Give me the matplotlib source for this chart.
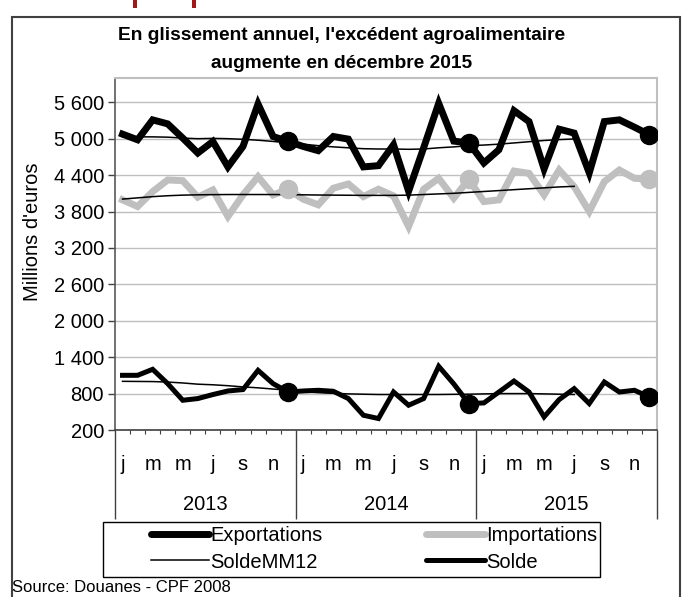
import matplotlib
matplotlib.use("Agg")
import matplotlib.pyplot as plt
from matplotlib.lines import Line2D
from matplotlib.patches import Rectangle
from matplotlib.transforms import blended_transform_factory

# monthly values, Jan 2013 .. Dec 2015 (millions of euros)
exports = [5075, 4982, 5310, 5244, 5010, 4764, 4954, 4535, 4872, 5572, 5036, 4954,
           4872, 4802, 5036, 4993, 4535, 4556, 4900, 4135, 4850, 5583, 4960, 4930,
           4600, 4818, 5462, 5282, 4502, 5157, 5092, 4437, 5282, 5310, 5190, 5064]
imports = [3992, 3882, 4128, 4320, 4308, 4036, 4156, 3718, 4074, 4374, 4074, 4167,
           4003, 3910, 4184, 4254, 4046, 4167, 4057, 3554, 4167, 4347, 4020, 4331,
           3964, 3992, 4467, 4429, 4074, 4484, 4210, 3800, 4292, 4484, 4347, 4331]
solde = [1101, 1101, 1200, 964, 690, 718, 784, 843, 866, 1183, 964, 826,
         843, 854, 838, 718, 443, 389, 826, 608, 718, 1249, 960, 636,
         646, 826, 1007, 826, 416, 701, 882, 636, 991, 826, 854, 744]
# 12-month moving averages (available through June 2015)
exports_mm12 = [5030, 5030, 5030, 5025, 5010, 5000, 5005, 5000, 4990, 4975, 4955, 4930,
                4910, 4885, 4865, 4850, 4835, 4830, 4830, 4825, 4830, 4850, 4865, 4885,
                4895, 4910, 4930, 4950, 4970, 4985, 4995]
imports_mm12 = [4005, 4025, 4045, 4060, 4070, 4075, 4078, 4080, 4080, 4080, 4080, 4078,
                4075, 4072, 4070, 4068, 4066, 4066, 4066, 4070, 4080, 4090, 4100, 4115,
                4130, 4145, 4160, 4175, 4190, 4205, 4215]
solde_mm12 = [1002, 1000, 998, 990, 975, 955, 945, 930, 910, 895, 875, 855,
              830, 815, 805, 795, 790, 785, 785, 785, 785, 785, 788, 790,
              795, 800, 800, 800, 795, 790, 785]
month_labels = ["j", "", "m", "", "m", "", "j", "", "s", "", "n", ""]
years = ["2013", "2014", "2015"]
yticks = [200, 800, 1400, 2000, 2600, 3200, 3800, 4400, 5000, 5600]

GRAY = "#BFBFBF"
W, H = 690, 597
plt.rcParams["font.family"] = ["Liberation Sans", "DejaVu Sans"]

fig = plt.figure(figsize=(W / 100, H / 100), dpi=100, facecolor="white")
ax = fig.add_axes([115 / W, 1 - 430 / H, 542 / W, 352 / H])

n = len(exports)
xs = [i + 0.5 for i in range(n)]
xm = xs[:len(solde_mm12)]
dec = [11, 23, 35]

ax.plot(xs, exports, color="black", lw=5, solid_joinstyle="miter", zorder=3)
ax.plot(xs, imports, color=GRAY, lw=5, solid_joinstyle="miter", zorder=3)
ax.plot(xs, solde, color="black", lw=3.6, solid_joinstyle="miter", zorder=3)
ax.plot(xm, exports_mm12, color="black", lw=1.1, zorder=4)
ax.plot(xm, imports_mm12, color="black", lw=1.1, zorder=4)
ax.plot(xm, solde_mm12, color="black", lw=1.1, zorder=4)
for series, col in [(exports, "black"), (imports, GRAY), (solde, "black")]:
    ax.plot([xs[i] for i in dec], [series[i] for i in dec], "o", color=col,
            ms=13, zorder=5)

ax.set_xlim(0, n)
ax.set_ylim(200, 6000)
ax.set_yticks(yticks)
ax.set_yticklabels([f"{v:,}".replace(",", " ") for v in yticks], fontsize=14.5)
ax.yaxis.grid(True, color=GRAY, lw=1)
ax.set_axisbelow(True)
ax.tick_params(axis="y", direction="out", length=5, width=1, color="#404040", pad=3)

ax.set_xticks([0, 12, 24, 36])
ax.set_xticks(range(n + 1), minor=True)
ax.set_xticklabels([])
ax.tick_params(axis="x", which="major", direction="out", length=64, width=1, color="#404040")
ax.tick_params(axis="x", which="minor", direction="out", length=3, width=0.8, color="#404040")

for s in ["top", "right"]:
    ax.spines[s].set_color(GRAY)
    ax.spines[s].set_linewidth(1.5)
ax.spines["left"].set_color("#595959")
ax.spines["left"].set_linewidth(1.2)
ax.spines["bottom"].set_color("#404040")
ax.spines["bottom"].set_linewidth(1.2)

tr = blended_transform_factory(ax.transData, fig.transFigure)
for y in range(len(years)):
    for m, lab in enumerate(month_labels):
        if lab:
            ax.text(12 * y + m + 0.5, 1 - 464 / H, lab, transform=tr, ha="center",
                    va="center", fontsize=14.5)
    ax.text(12 * y + 6, 1 - 505 / H, years[y], transform=tr, ha="center",
            va="center", fontsize=14.5)

fig.text(33 / W, 1 - 232 / H, "Millions d'euros", rotation=90, ha="center",
         va="center", fontsize=14.5)

fig.text(342 / W, 1 - 36 / H, "En glissement annuel, l'excédent agroalimentaire",
         ha="center", va="center", fontsize=13.8, fontweight="bold")
fig.text(342 / W, 1 - 63 / H, "augmente en décembre 2015",
         ha="center", va="center", fontsize=13.8, fontweight="bold")

# descenders of a red heading cut off above the chart frame
for px in [133, 192]:
    fig.add_artist(Rectangle((px / W, 1 - 8 / H), 4 / W, 8 / H,
                             transform=fig.transFigure, facecolor="#A01818",
                             edgecolor="none"))

handles = [Line2D([], [], color="black", lw=5, solid_capstyle="round"),
           Line2D([], [], color="black", lw=1.1),
           Line2D([], [], color=GRAY, lw=5, solid_capstyle="round"),
           Line2D([], [], color="black", lw=3.6, solid_capstyle="round")]
labels = ["Exportations", "SoldeMM12", "Importations", "Solde"]
leg = fig.legend(handles, labels, ncol=2, loc="center left",
                 bbox_to_anchor=(151 / W, 1 - 549 / H),
                 fontsize=14.5, frameon=False, handlelength=2.9,
                 handletextpad=0.05, borderpad=0, labelspacing=0.35,
                 columnspacing=5.15, borderaxespad=0)
fig.add_artist(Rectangle((103 / W, 1 - 577 / H), 497 / W, 55 / H,
                         transform=fig.transFigure, fill=False,
                         edgecolor="black", lw=1))

fig.text(12 / W, 1 - 587 / H, "Source: Douanes - CPF 2008", ha="left",
         va="center", fontsize=12)

fig.add_artist(Rectangle((12 / W, -0.05), 668 / W, 1.05 - 17 / H,
                         transform=fig.transFigure, fill=False,
                         edgecolor="#404040", lw=1.5))

fig.savefig("out.png", dpi=100, facecolor="white")
